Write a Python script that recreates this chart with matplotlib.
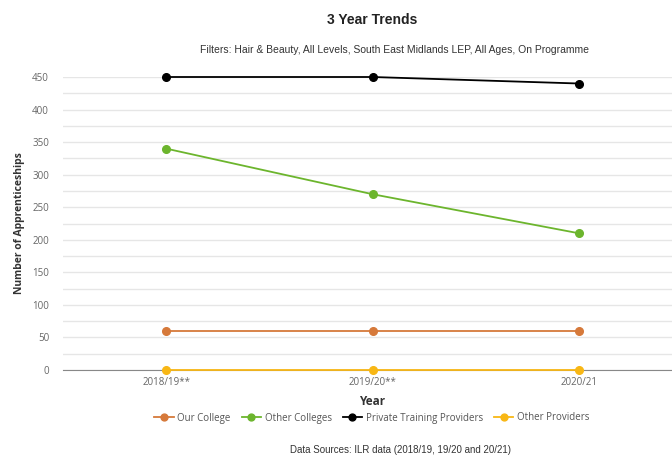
import matplotlib.pyplot as plt
from matplotlib.ticker import MultipleLocator

years = ['2018/19**', '2019/20**', '2020/21']
our_college = [60, 60, 60]
other_colleges = [340, 270, 210]
private_providers = [450, 450, 440]
other_providers = [0, 0, 0]

series = [
    ('Our College', our_college, '#d6793a'),
    ('Other Colleges', other_colleges, '#6cb52d'),
    ('Private Training Providers', private_providers, '#000000'),
    ('Other Providers', other_providers, '#f8b715'),
]

fig = plt.figure(figsize=(6.72, 4.55), dpi=100)
ax = fig.add_axes([63 / 672, 85 / 455, 619 / 672, 293 / 455])

x = list(range(len(years)))
for name, vals, col in series:
    ax.plot(x, vals, color=col, lw=1.3, marker='o', ms=5.5, label=name,
            clip_on=False, zorder=3)

ax.set_xlim(-0.5, 2.5)
ax.set_ylim(0, 450)
ax.yaxis.set_major_locator(MultipleLocator(50))
ax.yaxis.set_minor_locator(MultipleLocator(25))
ax.grid(axis='y', which='both', color='#e6e6e6', lw=1)
ax.set_axisbelow(True)
for s in ['top', 'right', 'left']:
    ax.spines[s].set_visible(False)
ax.spines['bottom'].set_color('#888888')
ax.set_xticks(x)
ax.set_xticklabels(years, fontfamily='Open Sans', fontsize=7, color='#666666')
ax.tick_params(axis='y', labelsize=7, labelcolor='#666666', length=0, pad=10)
ax.tick_params(axis='x', length=0, pad=5)
ax.tick_params(which='minor', length=0)
for t in ax.get_yticklabels():
    t.set_fontfamily('Open Sans')

ax.set_xlabel('Year', fontfamily='Open Sans', fontweight='bold', fontsize=8.5,
              color='#333333', labelpad=5)
ax.set_ylabel('Number of Apprenticeships', fontfamily='Open Sans',
              fontweight='bold', fontsize=7.5, color='#333333')
ax.yaxis.set_label_coords(-38 / 619, 0.5)

fig.text(372 / 672, 1 - 20 / 455, '3 Year Trends', ha='center', va='center',
         fontfamily='Liberation Sans', fontweight='bold', fontsize=10,
         color='#222222')
fig.text(395 / 672, 1 - 50 / 455,
         'Filters: Hair & Beauty, All Levels, South East Midlands LEP, All Ages, On Programme',
         ha='center', va='center', fontfamily='Liberation Sans', fontsize=7.5,
         color='#333333')
fig.text(401 / 672, 1 - 450 / 455, 'Data Sources: ILR data (2018/19, 19/20 and 20/21)',
         ha='center', va='center', fontfamily='Liberation Sans', fontsize=7,
         color='#333333')

leg = fig.legend(loc='center', bbox_to_anchor=(372 / 672, 1 - 418 / 455), ncol=4,
                 frameon=False, prop={'family': 'Open Sans', 'size': 7},
                 handlelength=2.0, columnspacing=1.1, handletextpad=0.4,
                 markerscale=0.9)
for t in leg.get_texts():
    t.set_color('#555555')

fig.savefig('out.png', dpi=100)
